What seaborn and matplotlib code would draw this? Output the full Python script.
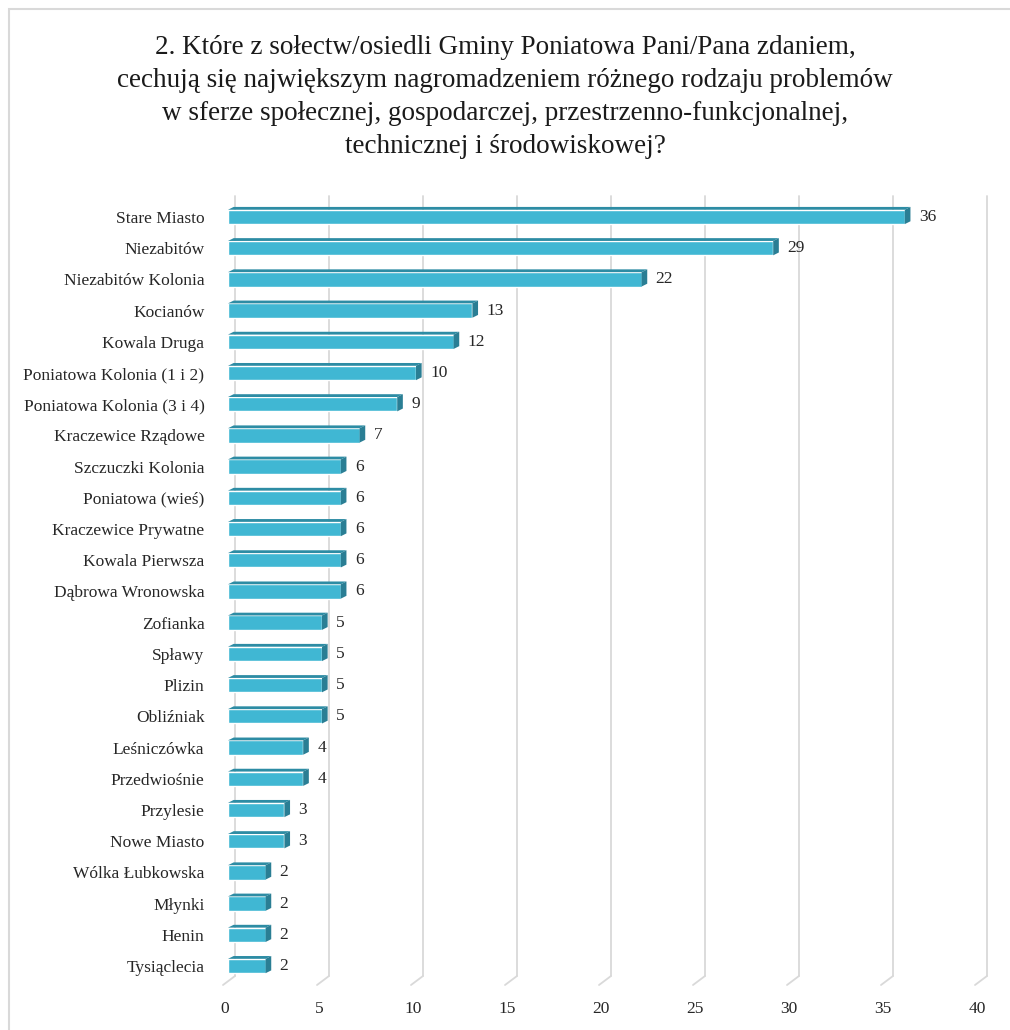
import numpy as np
import pandas as pd
import seaborn as sns
import matplotlib.pyplot as plt
from matplotlib.patches import Rectangle, Polygon
from matplotlib.transforms import ScaledTranslation

# data
places = ["Stare Miasto", "Niezabitów", "Niezabitów Kolonia", "Kocianów", "Kowala Druga",
          "Poniatowa Kolonia (1 i 2)", "Poniatowa Kolonia (3 i 4)", "Kraczewice Rządowe",
          "Szczuczki Kolonia", "Poniatowa (wieś)", "Kraczewice Prywatne", "Kowala Pierwsza",
          "Dąbrowa Wronowska", "Zofianka", "Spławy", "Plizin", "Obliźniak", "Leśniczówka",
          "Przedwiośnie", "Przylesie", "Nowe Miasto", "Wólka Łubkowska", "Młynki", "Henin",
          "Tysiąclecia"]
counts = [36, 29, 22, 13, 12, 10, 9, 7, 6, 6, 6, 6, 6, 5, 5, 5, 5, 4, 4, 3, 3, 2, 2, 2, 2]
x_ticks = [0, 5, 10, 15, 20, 25, 30, 35, 40]

title = ("2. Które z sołectw/osiedli Gminy Poniatowa Pani/Pana zdaniem,\n"
         "cechują się największym nagromadzeniem różnego rodzaju problemów\n"
         "w sferze społecznej, gospodarczej, przestrzenno-funkcjonalnej,\n"
         "technicznej i środowiskowej?")

df = pd.DataFrame({"place": places, "count": counts})

sns.set_style("white")
plt.rcParams["font.family"] = ["Liberation Serif", "DejaVu Serif"]
text_col = "#262626"
fs = 12.5

W, H = 1010, 1030
fig = plt.figure(figsize=(W / 100, H / 100), dpi=100)
# axes in "front face" coordinates: 0 -> x=228px, 40 -> x=980px
ax = fig.add_axes([228 / W, (H - 976) / H, (980 - 228) / W, (976 - 196) / H])

face = "#40B7D3"
top = "#2D8CA4"
side = "#2A7E94"
bh = 0.46

sns.barplot(data=df, y="place", x="count", orient="h", color=face, width=bh,
            saturation=1, ax=ax, zorder=3)

ax.set_xlim(0, 40)
ax.set_ylim(24.32, -0.67)

# 3d look: dark top strip and side cap from the same values
dx = 0.3
for i, v in enumerate(counts):
    y0 = i - bh / 2
    ax.add_patch(Polygon([(0, y0), (v, y0), (v + dx, y0 - 0.09), (dx, y0 - 0.09)],
                         closed=True, color=top, zorder=3, lw=0))
    ax.add_patch(Polygon([(v, y0), (v + dx, y0 - 0.09), (v + dx, y0 + bh - 0.09), (v, y0 + bh)],
                         closed=True, color=side, zorder=3, lw=0))
    ax.text(v + dx + 0.45, i, str(v), va="center", ha="left", fontsize=fs, color=text_col)

# back-wall gridlines, shifted right, with a slanted floor piece
back = ScaledTranslation(7 / 100, 0, fig.dpi_scale_trans)
for t in x_ticks:
    ax.plot([t, t], [-0.67, 24.32], color="#D9D9D9", lw=1.3, zorder=1,
            transform=ax.transData + back, clip_on=False)
    p0 = ax.transData.transform((t, 24.32))
    floor = ax.transData.inverted().transform([[p0[0] + 7, p0[1]], [p0[0] - 5, p0[1] - 9]])
    ax.plot(floor[:, 0], floor[:, 1], color="#D9D9D9", lw=1.3, zorder=1, clip_on=False)

ax.set_xticks(x_ticks)
ax.set_xticklabels([str(t) for t in x_ticks], fontsize=fs, color=text_col)
ax.tick_params(axis="x", length=0, pad=18)
for lab in ax.get_xticklabels():
    lab.set_transform(lab.get_transform() + ScaledTranslation(-3 / 100, 0, fig.dpi_scale_trans))
ax.tick_params(axis="y", length=0, pad=17, labelsize=fs, labelcolor=text_col)
ax.set_xlabel("")
ax.set_ylabel("")
ax.grid(False)
for s in ax.spines.values():
    s.set_visible(False)

fig.text(0.5, (H - 97) / H, title, ha="center", va="center", fontsize=19.5,
         color="#1a1a1a", linespacing=1.43)

# outer chart border
fig.patches.append(Rectangle((9 / W, -0.1), 1.2, (H - 9) / H + 0.1, transform=fig.transFigure,
                             fill=False, edgecolor="#D9D9D9", lw=1.5))

fig.savefig("out.png", dpi=100, facecolor="white")
